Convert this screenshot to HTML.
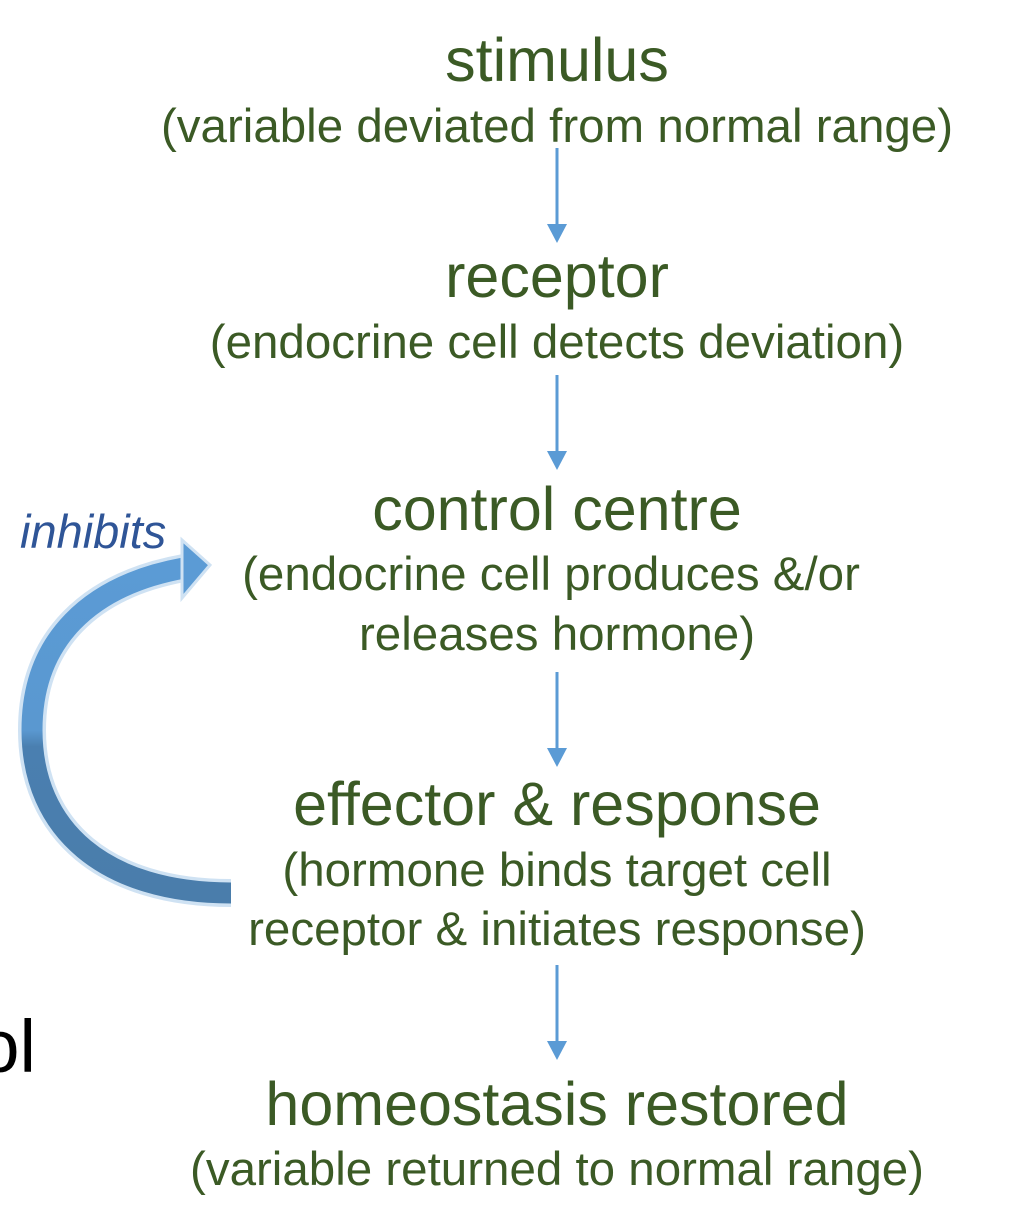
<!DOCTYPE html>
<html><head><meta charset="utf-8"><style>
html,body{margin:0;padding:0;background:#fff;width:1012px;height:1219px;overflow:hidden}
svg{display:block}
.h{font-family:"Liberation Sans",Arial,sans-serif;font-size:61px;fill:#3b5a25;text-anchor:middle}
.s{font-family:"Liberation Sans",Arial,sans-serif;font-size:47.5px;fill:#3b5a25;text-anchor:middle}
</style></head><body>
<svg width="1012" height="1219" viewBox="0 0 1012 1219">
<defs>
<linearGradient id="g" x1="0" y1="0" x2="0" y2="1">
<stop offset="0" stop-color="#5b9bd5"/><stop offset="0.5" stop-color="#5a98d0"/><stop offset="0.55" stop-color="#4a7fb0"/><stop offset="1" stop-color="#4a7dab"/>
</linearGradient>
</defs>
<g>
<text class="h" x="557" y="81">stimulus</text>
<text class="s" x="557" y="142">(variable deviated from normal range)</text></g>
<g>
<text class="h" x="557" y="297">receptor</text>
<text class="s" x="557" y="358">(endocrine cell detects deviation)</text></g>
<g>
<text class="h" x="557" y="530">control centre</text>
<text class="s" x="551" y="590">(endocrine cell produces &amp;/or</text>
<text class="s" x="557" y="650">releases hormone)</text></g>
<g>
<text class="h" x="557" y="825">effector &amp; response</text>
<text class="s" x="557" y="886">(hormone binds target cell</text>
<text class="s" x="557" y="945">receptor &amp; initiates response)</text></g>
<g>
<text class="h" x="557" y="1125">homeostasis restored</text>
<text class="s" x="557" y="1185">(variable returned to normal range)</text></g>
<g fill="#5b9bd5" stroke="#5b9bd5" stroke-width="3">
<line x1="557" y1="148" x2="557" y2="225"/><polygon points="547,224 567,224 557,243" stroke="none"/>
<line x1="557" y1="375" x2="557" y2="452"/><polygon points="547,451 567,451 557,470" stroke="none"/>
<line x1="557" y1="672" x2="557" y2="749"/><polygon points="547,748 567,748 557,767" stroke="none"/>
<line x1="557" y1="965" x2="557" y2="1042"/><polygon points="547,1041 567,1041 557,1060" stroke="none"/>
</g>
<g>
<path d="M231 893 C105 893, 32 830, 32 730 C32 640, 90 585, 184 568" fill="none" stroke="#cfe2f3" stroke-width="28"/>
<path d="M231 893 C105 893, 32 830, 32 730 C32 640, 90 585, 184 568" fill="none" stroke="url(#g)" stroke-width="21"/>
<polygon points="182,540 210,565 182,598" fill="#5b9bd5" stroke="#cfe2f3" stroke-width="3"/>
</g>
<text x="20" y="548" font-family="Liberation Sans, Arial, sans-serif" font-style="italic" font-size="47" fill="#2f5597">inhibits</text>
<text x="36" y="1072" text-anchor="end" font-family="Liberation Sans, Arial, sans-serif" font-size="74" fill="#000">ol</text>
</svg>
</body></html>
